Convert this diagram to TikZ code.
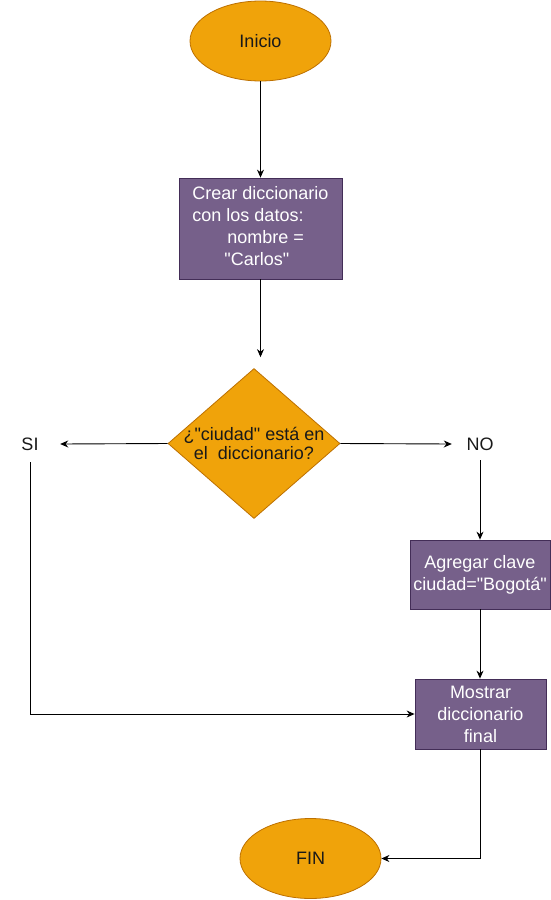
\documentclass[tikz,border=0pt]{standalone}
\usepackage{fontspec}
\setmainfont{Liberation Sans}[Ligatures=TeXOff]
\usetikzlibrary{shapes.geometric,arrows.meta}
\definecolor{orfill}{HTML}{F0A30A}
\definecolor{ordraw}{HTML}{BD7000}
\definecolor{pufill}{HTML}{76608A}
\definecolor{pudraw}{HTML}{432D57}
\tikzset{
  term/.style={ellipse, fill=orfill, draw=ordraw, line width=0.8pt, minimum width=141pt, minimum height=80pt, inner sep=0pt, text=black!90},
  procbox/.style={rectangle, fill=pufill, draw=pudraw, line width=0.8pt, inner sep=0pt, text=white, align=center},
  decis/.style={diamond, fill=orfill, draw=ordraw, line width=0.8pt, minimum width=172pt, minimum height=150pt, inner sep=0pt},
  lbl/.style={inner sep=0pt, text=black!90},
  conn/.style={line width=0.9pt, -{Stealth[length=8pt,width=7pt]}},
  every node/.style={font=\fontsize{18}{22}\selectfont}
}
\begin{document}
\begin{tikzpicture}[x=1pt,y=-1pt]
\useasboundingbox (0,0) rectangle (551,900);
\node[term] (inicio) at (260.5,41) {Inicio};
\node[procbox, minimum width=163pt, minimum height=101pt] (box1) at (260.5,228.5)
  {\begin{tabular}{@{}l@{}}Crear diccionario\\con los datos:\\\hspace{35pt}nombre =\\\hspace{32pt}"Carlos"\end{tabular}};
\node[decis, label={[align=center, text=black!90, font=\fontsize{18}{19}\selectfont]center:¿"ciudad" está en\\el\ \ diccionario?}] (dec) at (254,443.5) {};
\node[lbl, minimum width=60pt, minimum height=36pt] (si) at (30,444) {SI};
\node[lbl, minimum width=56pt, minimum height=32pt] (no) at (480,444) {NO};
\node[procbox, minimum width=140pt, minimum height=69pt] (box2) at (480,574.5) {Agregar clave\\ciudad="Bogotá"};
\node[procbox, minimum width=131pt, minimum height=70pt] (box3) at (480.5,714) {Mostrar\\diccionario\\final};
\node[term] (fin) at (310.5,858.5) {FIN};
\draw[conn] (inicio) -- (box1);
\draw[conn, shorten >=11pt] (box1.south) -- (box1.south |- dec.north);
\draw[conn] (dec.west) -- (si.east);
\draw[conn] (dec.east) -- (no.west);
\draw[conn] (si.south) |- (box3.west);
\draw[conn] (no.south) -- (box2.north);
\draw[conn] (box2.south) -- (box2.south |- box3.north);
\draw[conn] (box3.south -| box2.south) |- (fin.east);
\end{tikzpicture}
\end{document}
